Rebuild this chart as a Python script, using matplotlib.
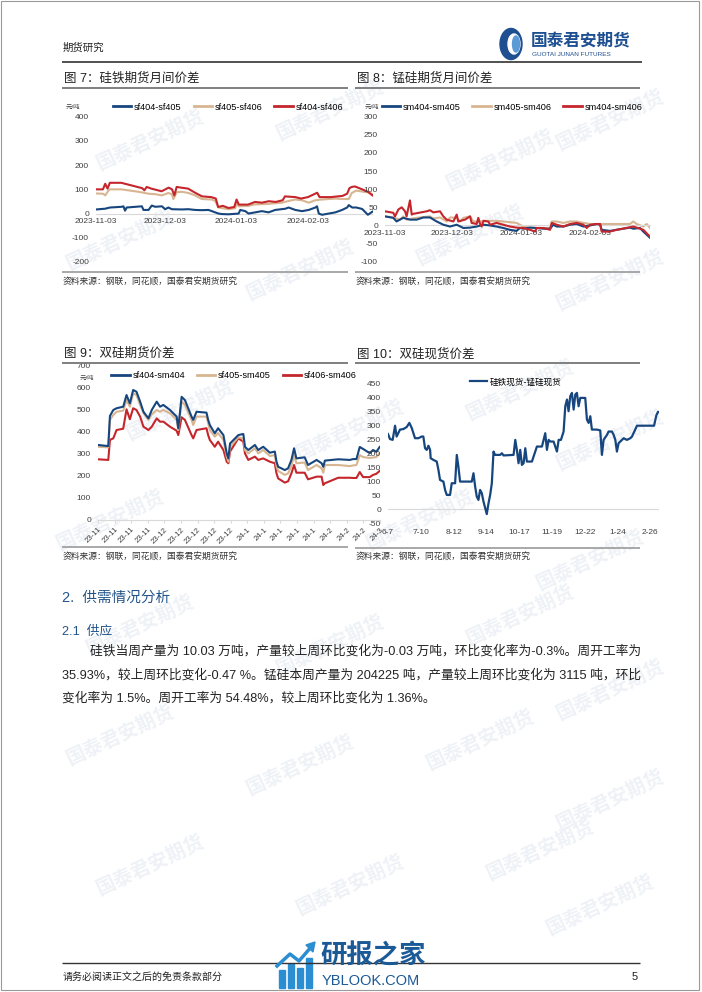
import matplotlib
matplotlib.use('Agg')
import matplotlib.pyplot as plt
import numpy as np
import pandas as pd
from matplotlib.lines import Line2D
from matplotlib.patches import Rectangle, Circle, Ellipse, Polygon

# ---------------- data ----------------
BLUE, BEIGE, RED = '#17467F', '#D8B591', '#C4262C'

# Chart 7: 硅铁期货月间价差 (day offsets from 2023-11-03)
c7_base = '2023-11-03'
c7_ticks = ['2023-11-03', '2023-12-03', '2024-01-03', '2024-02-03']
sf404_405_day = [0, 3.9, 6.1, 11.2, 11.9, 12.6, 13.3, 19.9, 20.6, 22.8, 24.2, 25.7, 28.6, 30, 31.4, 32.9, 37.2,
                 40.1, 43, 45.9, 48.8, 50.3, 51.7, 53.2, 54.6, 57.5, 61.9, 62.6, 64.8, 66.2, 69.1, 72, 74.9,
                 77.8, 82.2, 83.6, 86.5, 89.4, 92.3, 95.2, 95.9, 96.7, 98.1, 101, 103.9, 106.8, 109, 109.7,
                 111.2, 113, 115.5, 118, 120]
sf404_405_val = [17, 20, 25, 28, 30, 12, 25, 30, 15, 15, 33, 28, 30, 18, 25, 18, 17,
                 18, 15, 14, 15, 10, 5, 0, -2, -3, 0, 15, 10, 0, 5, 10, 5,
                 15, 20, 25, 15, 10, 15, 25, 30, 0, -5, 0, 5, 15, 25, 35,
                 25, 25, 19, -5, 8]
sf405_406_day = [0, 3, 4, 5.4, 6, 11, 18.4, 22.8, 25.7, 28.6, 31.4, 32.9, 33.6, 35, 37.2, 40.1, 43, 45.9,
                 50.3, 51.7, 53.2, 57.5, 60.4, 61.2, 61.9, 66.2, 69.1, 74.9, 80.7, 83.6, 86.5, 89.4, 92.3,
                 95.2, 98.1, 103.9, 106.8, 109.7, 111, 113, 116, 118, 120]
sf405_406_val = [83, 82, 75, 95, 100, 100, 90, 82, 80, 75, 85, 80, 60, 88, 90, 85, 75, 60,
                 58, 52, 25, 18, 22, 45, 30, 32, 38, 40, 45, 52, 58, 55, 45,
                 55, 58, 62, 60, 60, 85, 95, 90, 88, 80]
sf404_406_day = [0, 3, 4, 5, 6, 11, 15.5, 20, 21, 22, 24, 28.5, 31.5, 33, 34, 35, 37, 40, 43, 46,
                 50, 52, 53, 55, 57.5, 60, 61, 62, 66, 69, 72, 75, 78, 81, 82, 86.5, 89, 92, 96, 97,
                 102, 107, 109, 110, 111, 112.4, 115.5, 118, 120]
sf404_406_val = [100, 100, 123, 103, 127, 127, 116, 105, 96, 110, 103, 92, 107, 100, 75, 110, 107, 103, 86, 71,
                 68, 62, 27, 32, 23, 27, 58, 37, 37, 48, 45, 51, 48, 55, 71, 68, 62, 68, 86, 68,
                 68, 73, 82, 105, 110, 112, 100, 90, 75]

# Chart 8: 锰硅期货月间价差
c8_base = '2023-11-03'
c8_ticks = ['2023-11-03', '2023-12-03', '2024-01-03', '2024-02-03']
sm404_405_day = [0, 3.7, 5.2, 8.2, 11.2, 14.2, 17.2, 20.2, 23.2, 26.2, 29.2, 32.2, 35.2, 38.2, 41.2, 44.2,
                 47.2, 50.1, 53.1, 56.1, 59.1, 60.6, 62.1, 65.1, 68.1, 71.1, 74.1, 75.6, 77.1, 80.1, 83.1,
                 86.1, 89.1, 92.1, 95.1, 96.6, 97.3, 101, 104, 110, 111.5, 114.5, 116, 119]
sm404_405_val = [25, 21, 11, 21, 16, 16, 22, 22, 11, 2, -3, 2, -7, -6, -3, 2,
                 0, -3, -7, -12, -15, -7, -9, -6, -7, -9, -9, 2, -3, -3, 2,
                 4, -3, 0, 4, 2, -12, -15, -12, -6, -9, -7, -17, -34]
sm405_406_day = [0, 3.7, 6.7, 8.2, 9.7, 14.2, 20.2, 21.7, 24.7, 27.7, 29.2, 32.2, 33.7, 35.2, 38.2, 39.7,
                 44.2, 48.7, 53.1, 59.1, 62.1, 65.1, 68.1, 74.1, 74.9, 77.1, 80.1, 83.1, 86.1, 89.1, 92.1,
                 98.1, 104, 110, 111.5, 113, 116, 117.5, 119]
sm405_406_val = [25, 22, 16, 25, 16, 21, 25, 19, 22, 11, 22, 21, 11, 21, 25, 11,
                 11, 13, 11, 7, -3, -6, -7, -7, 11, 11, 7, 11, 11, 7, 4,
                 4, 4, 4, 11, 4, -3, 4, -7]
sm404_406_day = [0, 3.7, 4.5, 6, 7.5, 9, 9.7, 11.2, 12, 12.7, 18.7, 20.2, 21.7, 24.7, 26.2, 27.7, 30.7,
                 32.2, 32.9, 35.9, 38.2, 38.9, 41.2, 41.9, 42.7, 43.4, 44.2, 46.4, 47.2, 50.1, 53.1, 56.1,
                 59.1, 62.1, 65.1, 67.4, 68.1, 71.1, 74.1, 74.9, 77.1, 80.1, 83.1, 86.1, 89.1, 90.6, 92.1,
                 95.1, 96.6, 97.3, 101, 104, 110, 111.5, 113, 116, 119]
sm404_406_val = [39, 35, 25, 44, 50, 39, 25, 69, 30, 32, 39, 42, 36, 39, 25, 16, 11,
                 30, 11, 16, 25, 7, 4, 21, 4, -3, 13, 11, 2, 7, 2, -3,
                 -6, -7, -12, -17, -7, -7, -12, 7, 2, -3, 4, 7, 2, -7, 2,
                 4, 4, -17, -17, -12, -5, -3, -6, -12, -31]

# Chart 9: 双硅期货价差 (category index positions)
c9_labels = ['23-11'] * 4 + ['23-12'] * 5 + ['24-1'] * 5 + ['24-2'] * 3 + ['24-3']
c9_idx = [0, 3.1, 3.6, 4.6, 5.6, 7.6, 8.6, 9.6, 10.6, 11.6, 12.7, 13.7, 15.2, 16.2, 17.7, 18.7, 19.7,
          21.7, 23.7, 24.2, 25.2, 26.2, 28.2, 28.7, 29.7, 32.7, 33.2, 33.7, 35.2, 36.2, 37.8, 38.8,
          39.3, 39.8, 42.3, 43.8, 44.3, 45.3, 47.3, 48.3, 49.8, 51.8, 53.3, 53.8, 54.3, 56.3, 57.3,
          58.3, 59.1, 59.8, 62.3, 63.3, 65.9, 67.4, 67.9, 68.4, 72.4, 75.9, 76.9, 77.9, 78.9, 79.9,
          81.9, 82.9, 83.9, 84.9]
sf404_sm404 = [341, 336, 473, 500, 508, 515, 568, 530, 591, 583, 538, 492, 462, 500, 538, 515, 523,
               500, 470, 417, 560, 545, 470, 455, 492, 488, 455, 432, 394, 417, 386, 303,
               280, 348, 386, 391, 333, 318, 341, 318, 333, 306, 311, 265, 242, 227, 235,
               273, 326, 280, 285, 250, 273, 258, 242, 270, 276, 273, 277, 277, 332, 323,
               304, 318, 310, 332]
sf405_sm405 = [333, 330, 455, 477, 492, 497, 545, 515, 576, 568, 523, 485, 455, 480, 500, 492, 500,
               485, 455, 409, 538, 523, 455, 432, 470, 470, 440, 409, 379, 395, 364, 288,
               265, 333, 376, 370, 318, 303, 326, 303, 318, 291, 295, 245, 223, 205, 212,
               245, 295, 258, 261, 227, 250, 235, 215, 250, 250, 245, 248, 250, 295, 286,
               282, 284, 286, 304]
sf406_sm406 = [276, 273, 364, 371, 409, 415, 503, 458, 508, 500, 470, 424, 409, 424, 462, 447, 447,
               424, 406, 386, 467, 455, 386, 371, 409, 417, 386, 364, 333, 356, 318, 265,
               258, 311, 371, 356, 303, 273, 288, 273, 280, 265, 258, 212, 189, 170, 176,
               212, 250, 215, 215, 185, 197, 197, 159, 167, 192, 192, 191, 191, 218, 195,
               195, 205, 210, 223]

# Chart 10: 双硅现货价差 (day offsets from 2023-06-07)
c10_base = '2023-06-07'
c10_ticks = ['2023-06-07', '2023-07-10', '2023-08-12', '2023-09-14', '2023-10-17',
             '2023-11-19', '2023-12-22', '2024-01-24', '2024-02-26']
spot_day = [0, 2, 4.7, 7.1, 8.7, 12.1, 15.5, 18.8, 21.5, 23.9,
            27.2, 30.6, 33.9, 35.6, 37.3, 39, 40.7, 42.4, 43, 45.7,
            49.1, 50.8, 52.4, 55.8, 57.5, 59.2, 62.5, 64.2, 67.6, 69.3,
            70.9, 72.6, 84.4, 86.1, 87.8, 89.4, 91.1, 92.8, 94.5, 96.2,
            99.5, 101.2, 102.9, 104.6, 106.3, 107.9, 109.6, 113, 114.7, 116.4,
            126.5, 128.2, 129.8, 131.5, 133.2, 134.9, 136.6, 138.3, 139.9, 145,
            150, 155.1, 158.4, 160.1, 161.8, 163.5, 166.8, 170.2, 171.9, 174.2,
            176.9, 178.6, 180.3, 181.9, 183.6, 185.3, 187, 188.7, 190.3, 192,
            193.7, 198.7, 200.4, 202.1, 203.8, 205.4, 210.5, 213.8, 215.5, 217.2,
            220.6, 222.2, 225.6, 227.3, 229, 230.6, 232.3, 235.7, 237.4, 240.7,
            244.1, 245.8, 250.8, 257.5, 264.2, 268, 270.4, 272, 273]
spot_val = [270, 252, 249, 300, 261, 286, 288, 295, 310, 292,
            255, 255, 261, 261, 219, 213, 228, 213, 183, 177,
            171, 141, 105, 99, 69, 51, 51, 93, 93, 195,
            153, 99, 99, 129, 81, 45, 33, 69, 57, 27,
            -18, 20, 51, 93, 207, 195, 195, 195, 201, 193,
            195, 249, 213, 165, 213, 159, 165, 219, 171, 171,
            225, 225, 273, 213, 249, 243, 243, 207, 249, 249,
            279, 370, 394, 352, 406, 418, 358, 412, 418, 370,
            400, 400, 322, 310, 334, 286, 286, 283, 195, 249,
            267, 279, 279, 267, 249, 207, 237, 249, 255, 249,
            255, 261, 300, 300, 300, 300, 338, 350, 349]

para_lines = [
    '硅铁当周产量为 10.03 万吨，产量较上周环比变化为-0.03 万吨，环比变化率为-0.3%。周开工率为',
    '35.93%，较上周环比变化-0.47 %。锰硅本周产量为 204225 吨，产量较上周环比变化为 3115 吨，环比',
    '变化率为 1.5%。周开工率为 54.48%，较上周环比变化为 1.36%。',
]

# ---------------- figure ----------------
W, H = 702, 992
plt.rcParams['font.family'] = ['Liberation Sans', 'Noto Sans CJK SC', 'DejaVu Sans']
plt.rcParams['axes.unicode_minus'] = False
fig = plt.figure(figsize=(W / 100, H / 100), dpi=100)
fig.patch.set_facecolor('white')


def fx(x):
    return x / W


def fy(y):
    return 1 - y / H


def ax_px(x0, y0, x1, y1):
    a = fig.add_axes([fx(x0), fy(y1), (x1 - x0) / W, (y1 - y0) / H])
    a.patch.set_visible(False)
    return a


def ftext(x, y, s, **kw):
    return fig.text(fx(x), fy(y), s, **kw)


def hline(x0, x1, y, color='#808080', lw=1.0):
    fig.add_artist(Line2D([fx(x0), fx(x1)], [fy(y), fy(y)], transform=fig.transFigure,
                          color=color, lw=lw, solid_capstyle='butt'))


# faint watermarks
wm_pos = [(150, 140), (330, 110), (500, 160), (610, 120), (120, 240), (300, 270), (470, 235), (610, 280),
          (180, 410), (350, 430), (520, 390), (610, 440), (110, 520), (420, 520), (590, 560),
          (140, 625), (330, 645), (520, 615), (610, 690), (120, 735), (300, 765), (480, 740),
          (610, 800), (150, 865), (350, 885), (540, 850), (600, 905)]
for (x, y) in wm_pos:
    ftext(x, y, '国泰君安期货', fontsize=14, color='#eef2f7', rotation=25, ha='center', va='center',
          fontweight='bold', zorder=-5)

# page border
fig.add_artist(Rectangle((fx(1), fy(990)), 698 / W, 989 / H, transform=fig.transFigure,
                         fill=False, edgecolor='#9a9a9a', lw=0.8))

# header
ftext(63, 48, '期货研究', fontsize=7.5, color='#222222', va='center', ha='left')
hline(62, 642, 62, color='#333333', lw=1.2)
fig.add_artist(Circle((fx(511), fy(44)), 11 / W, transform=fig.transFigure, color='#1d4f91'))
fig.add_artist(Ellipse((fx(514), fy(44)), 12 / W, 20 / H, transform=fig.transFigure, color='white'))
fig.add_artist(Ellipse((fx(516), fy(44)), 7 / W, 16 / H, transform=fig.transFigure, color='#5b9bd5'))
ftext(531, 40, '国泰君安期货', fontsize=12, color='#1d4f91', va='center', ha='left', fontweight='bold')
ftext(532, 54, 'GUOTAI JUNAN FUTURES', fontsize=4.6, color='#1d4f91', va='center', ha='left')

TICK_C = '#404040'


def style_axes(ax, fs=6.0):
    for s in ['top', 'right', 'left']:
        ax.spines[s].set_visible(False)
    ax.tick_params(axis='y', length=0, pad=5, labelsize=fs, labelcolor=TICK_C)
    ax.tick_params(axis='x', length=0, labelsize=fs, labelcolor=TICK_C)


def make_legend(ax, labels, colors, cx, cy, fs=6.6, colsp=1.3):
    handles = [Line2D([], [], color=c, lw=2.0) for c in colors]
    ax.legend(handles, labels, ncol=len(labels), loc='center', bbox_to_anchor=(fx(cx), fy(cy)),
              bbox_transform=fig.transFigure, frameon=False, fontsize=fs, handlelength=2.0,
              handletextpad=0.3, columnspacing=colsp, borderpad=0, borderaxespad=0)


def title_block(x0, x1, ty, ly, text):
    ftext(x0 + 2, ty, text, fontsize=9, color='#222222', va='center', ha='left')
    hline(x0, x1, ly, color='#7f7f7f', lw=1.4)


def source_block(x0, x1, ly, ty):
    hline(x0, x1, ly, color='#9a9a9a', lw=1.2)
    ftext(x0 + 1, ty, '资料来源：钢联，同花顺，国泰君安期货研究', fontsize=6.3, color='#333333',
          va='center', ha='left')


# ---------- Chart 7 ----------
title_block(62, 348, 79, 88, '图 7：硅铁期货月间价差')
ax7 = ax_px(96, 116.7, 372.5, 262)
b7 = pd.Timestamp(c7_base)
ax7.plot(b7 + pd.to_timedelta(sf404_405_day, unit='D'), sf404_405_val, color=BLUE, lw=1.5, zorder=3)
ax7.plot(b7 + pd.to_timedelta(sf405_406_day, unit='D'), sf405_406_val, color=BEIGE, lw=1.5, zorder=2)
ax7.plot(b7 + pd.to_timedelta(sf404_406_day, unit='D'), sf404_406_val, color=RED, lw=1.5, zorder=4)
ax7.set_xlim(b7, b7 + pd.Timedelta(days=120))
ax7.set_ylim(-200, 400)
ax7.set_yticks(range(-200, 401, 100))
style_axes(ax7)
ax7.spines['bottom'].set_position(('data', 0))
ax7.spines['bottom'].set_color('#d9d9d9')
ax7.spines['bottom'].set_linewidth(0.8)
ax7.set_xticks(pd.to_datetime(c7_ticks))
ax7.set_xticklabels(c7_ticks)
ax7.tick_params(axis='x', pad=3)
make_legend(ax7, ['sf404-sf405', 'sf405-sf406', 'sf404-sf406'], [BLUE, BEIGE, RED], 228, 107)
ftext(73, 107, '元/吨', fontsize=4.6, color=TICK_C, ha='center', va='center')
source_block(62, 348, 272, 282)

# ---------- Chart 8 ----------
title_block(355, 640, 79, 88, '图 8：锰硅期货月间价差')
ax8 = ax_px(385, 116.7, 650, 261.7)
b8 = pd.Timestamp(c8_base)
ax8.plot(b8 + pd.to_timedelta(sm404_405_day, unit='D'), sm404_405_val, color=BLUE, lw=1.5, zorder=3)
ax8.plot(b8 + pd.to_timedelta(sm405_406_day, unit='D'), sm405_406_val, color=BEIGE, lw=1.5, zorder=2)
ax8.plot(b8 + pd.to_timedelta(sm404_406_day, unit='D'), sm404_406_val, color=RED, lw=1.5, zorder=4)
ax8.set_xlim(b8, b8 + pd.Timedelta(days=119))
ax8.set_ylim(-100, 300)
ax8.set_yticks(range(-100, 301, 50))
style_axes(ax8)
ax8.spines['bottom'].set_position(('data', 0))
ax8.spines['bottom'].set_color('#d9d9d9')
ax8.spines['bottom'].set_linewidth(0.8)
ax8.set_xticks(pd.to_datetime(c8_ticks))
ax8.set_xticklabels(c8_ticks)
ax8.tick_params(axis='x', pad=3)
make_legend(ax8, ['sm404-sm405', 'sm405-sm406', 'sm404-sm406'], [BLUE, BEIGE, RED], 512, 107)
ftext(372, 107, '元/吨', fontsize=4.6, color=TICK_C, ha='center', va='center')
source_block(355, 640, 272, 282)

# ---------- Chart 9 ----------
title_block(62, 348, 354, 363, '图 9：双硅期货价差')
ax9 = ax_px(98, 366, 380, 520)
ax9.plot(c9_idx, sf404_sm404, color=BLUE, lw=1.5, zorder=4)
ax9.plot(c9_idx, sf405_sm405, color=BEIGE, lw=1.5, zorder=3)
ax9.plot(c9_idx, sf406_sm406, color=RED, lw=1.5, zorder=2)
ax9.set_xlim(0, 85)
ax9.set_ylim(0, 700)
ax9.set_yticks(range(0, 701, 100))
style_axes(ax9)
ax9.spines['bottom'].set_color('#d9d9d9')
ax9.spines['bottom'].set_linewidth(0.8)
ax9.set_xticks(range(0, 86, 5))
ax9.set_xticklabels(c9_labels, rotation=45, ha='right', rotation_mode='anchor')
ax9.tick_params(axis='x', length=2.5, color='#d9d9d9', pad=2, labelsize=5.6)
make_legend(ax9, ['sf404-sm404', 'sf405-sm405', 'sf406-sm406'], [BLUE, BEIGE, RED], 234, 376)
ftext(87, 378, '元/吨', fontsize=4.6, color=TICK_C, ha='center', va='center')
source_block(62, 348, 547, 557)

# ---------- Chart 10 ----------
title_block(355, 640, 354, 363, '图 10：双硅现货价差')
ax10 = ax_px(388, 384, 659, 523)
b10 = pd.Timestamp(c10_base)
ax10.plot(b10 + pd.to_timedelta(spot_day, unit='D'), spot_val, color=BLUE, lw=1.6, zorder=3,
          label='硅铁现货-锰硅现货')
ax10.set_xlim(b10, b10 + pd.Timedelta(days=273))
ax10.set_ylim(-50, 450)
ax10.set_yticks(range(-50, 451, 50))
style_axes(ax10)
ax10.spines['bottom'].set_visible(False)
ax10.axhline(0, color='#d9d9d9', lw=0.8, zorder=1)
ax10.set_xticks(pd.to_datetime(c10_ticks))
ax10.set_xticklabels([f'{d.month}-{d.day}' for d in pd.to_datetime(c10_ticks)])
ax10.tick_params(axis='x', pad=4)
ax10.legend(loc='center', bbox_to_anchor=(fx(516), fy(382)), bbox_transform=fig.transFigure,
            frameon=False, fontsize=6.2, handlelength=2.0, handletextpad=0.3, borderpad=0)
source_block(355, 640, 548, 557)

# ---------- text section ----------
SEC_C = '#24558A'
ftext(62, 598, '2.  供需情况分析', fontsize=10.5, color=SEC_C, va='center', ha='left')
ftext(62, 632, '2.1  供应', fontsize=9.2, color=SEC_C, va='center', ha='left')
ftext(90, 651, para_lines[0], fontsize=9.2, color='#222222', va='center', ha='left')
ftext(62, 675, para_lines[1], fontsize=9.2, color='#222222', va='center', ha='left')
ftext(62, 698, para_lines[2], fontsize=9.2, color='#222222', va='center', ha='left')

# ---------- footer ----------
hline(62, 640, 963, color='#333333', lw=1.0)
ftext(63, 977, '请务必阅读正文之后的免责条款部分', fontsize=7.2, color='#222222', va='center', ha='left')
ftext(638, 977, '5', fontsize=8, color='#222222', va='center', ha='right')
icon_c = '#2b8ed3'
for bx, bh in [(279, 18), (288, 24), (297, 20), (306, 30)]:
    fig.add_artist(Rectangle((fx(bx), fy(988)), 6 / W, bh / H, transform=fig.transFigure,
                             color=icon_c))
fig.add_artist(Line2D([fx(277), fx(290), fx(299), fx(312)], [fy(966), fy(954), fy(961), fy(946)],
                      transform=fig.transFigure, color=icon_c, lw=2.5))
fig.add_artist(Polygon([(fx(315), fy(942)), (fx(306), fy(945)), (fx(313), fy(952))],
                       transform=fig.transFigure, color=icon_c))
ftext(320, 956, '研报之家', fontsize=19, color='#1b5a96', va='center', ha='left', fontweight='bold')
ftext(322, 981, 'YBLOOK.COM', fontsize=10.5, color='#1b5a96', va='center', ha='left')

fig.savefig('out.png', dpi=100)
